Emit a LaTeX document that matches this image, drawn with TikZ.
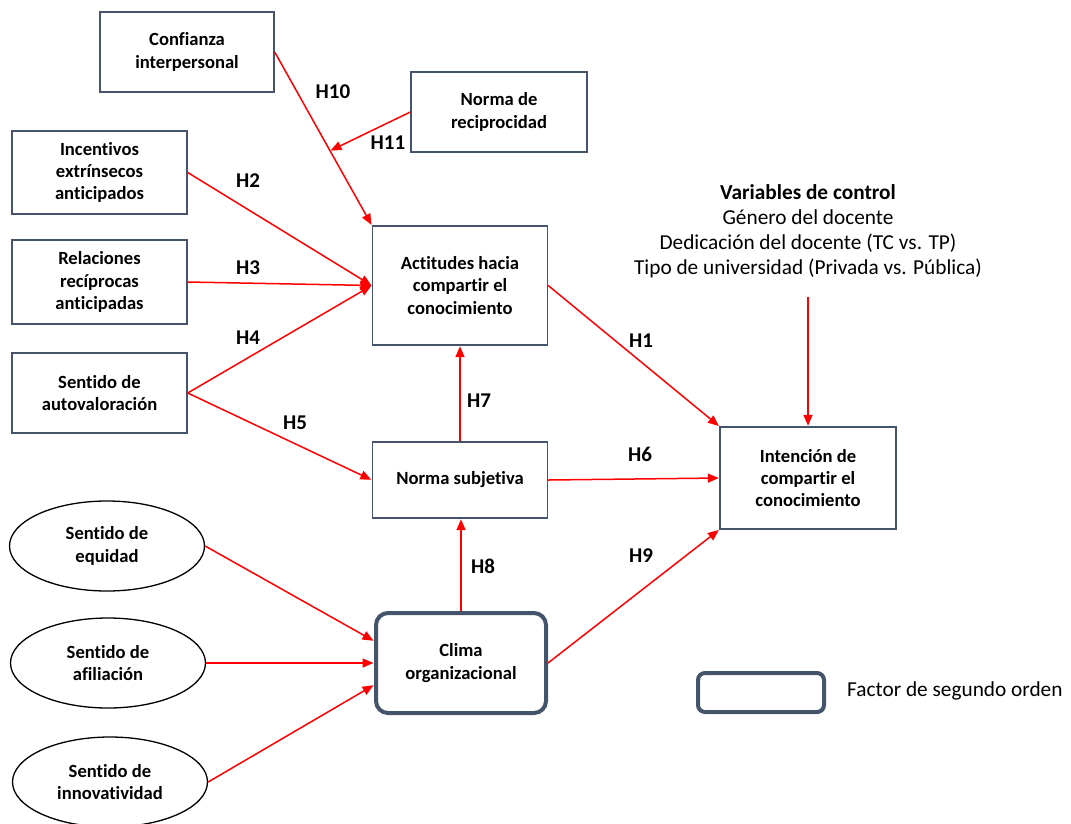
\documentclass[tikz,border=0pt]{standalone}
\usepackage{fontspec}
\setmainfont{Carlito}[Ligatures={NoCommon}]
\usetikzlibrary{arrows.meta,calc,shapes.geometric}
\definecolor{boxline}{HTML}{44546A}
\definecolor{linkred}{HTML}{FF0000}
\tikzset{
  varbox/.style={draw=boxline,line width=1.4pt,fill=white,align=center,
    font=\fontsize{18.6}{22.3}\selectfont\bfseries,inner sep=2pt},
  varoval/.style={ellipse,draw=black,line width=1.3pt,fill=white,align=center,
    font=\fontsize{18.6}{22.3}\selectfont\bfseries,inner sep=0pt},
  factorbox/.style={draw=boxline,line width=4pt,rounded corners=12pt,fill=white,
    align=center,font=\fontsize{18.6}{22.3}\selectfont\bfseries},
  link/.style={draw=linkred,line width=1.5pt,-{Triangle[length=11pt,width=9pt]},
    shorten >=0.5pt},
  hlabel/.style={font=\fontsize{21}{24}\selectfont\bfseries,inner sep=0pt},
  plaintext/.style={font=\fontsize{21.3}{25.2}\selectfont,align=center,inner sep=0pt}
}
\begin{document}
\begin{tikzpicture}[x=1pt,y=-1pt]
\useasboundingbox (0,0) rectangle (1071,823);

% constructs
\node[varbox,minimum width=174pt,minimum height=80pt] (conf) at (187,52) {Confianza\\interpersonal};
\node[varbox,minimum width=176pt,minimum height=80pt] (recip) at (499,112) {Norma de\\reciprocidad};
\node[varbox,minimum width=175pt,minimum height=83pt] (incent) at (99.5,172.5) {Incentivos\\extrínsecos\\anticipados};
\node[varbox,minimum width=175pt,minimum height=84pt] (relac) at (99.5,282) {Relaciones\\recíprocas\\anticipadas};
\node[varbox,minimum width=175pt,minimum height=80pt] (autov) at (99.5,393) {Sentido de\\autovaloración};
\node[varbox,minimum width=175pt,minimum height=119pt] (actit) at (460,285.5) {Actitudes hacia\\compartir el\\conocimiento};
\node[varbox,minimum width=175pt,minimum height=76pt] (nsubj) at (460,480) {Norma subjetiva};
\node[varbox,minimum width=176pt,minimum height=102pt] (inten) at (808,478) {Intención de\\compartir el\\conocimiento};
\node[factorbox,minimum width=170pt,minimum height=100pt] (clima) at (461,663) {Clima\\organizacional};

\node[varoval,minimum width=195pt,minimum height=90pt] (equid) at (107,546) {Sentido de\\equidad};
\node[varoval,minimum width=195pt,minimum height=90pt] (afil) at (108,663) {Sentido de\\afiliación};
\node[varoval,minimum width=195pt,minimum height=90pt] (innov) at (110,782) {Sentido de\\innovatividad};

% control variables
\node[plaintext,anchor=north] (ctrl) at (808,184)
  {\textbf{Variables de control}\\Género del docente\\Dedicación del docente (TC vs. TP)\\Tipo de universidad (Privada vs. Pública)};
\coordinate (ctrlfoot) at (808,297);

% legend
\node[draw=boxline,line width=4pt,rounded corners=7pt,minimum width=126pt,minimum height=39pt] (legbox) at (761,692.5) {};
\node[plaintext,anchor=west] (legtext) at (847,691) {Factor de segundo orden};

% paths
\coordinate (h11end) at ($(conf.east)!0.57!(actit.north west)$);
\draw[link] (conf.east) -- (actit.north west);
\draw[link] (recip.west) -- (h11end);
\draw[link] (incent.east) -- (actit.west);
\draw[link] (relac.east) -- (actit.west);
\draw[link] (autov.east) -- (actit.west);
\draw[link] (autov.east) -- (nsubj.west);
\draw[link] (nsubj.north) -- (actit.south);
\draw[link] (clima.north) -- (nsubj.south -| clima.north);
\draw[link] (nsubj.east) -- (inten.west);
\draw[link] (actit.east) -- (inten.north west);
\draw[link] (clima.east) -- (inten.south west);
\draw[link] (equid.east) -- ([yshift=22pt]clima.west);
\draw[link] (afil.east) -- (clima.west);
\draw[link] (innov.east) -- ([yshift=-22pt]clima.west);
\draw[link] (ctrlfoot) -- (inten.north);

% hypothesis labels
\node[hlabel] (l10) at (333,92) {H10};
\node[hlabel] (l11) at (388,143) {H11};
\node[hlabel] (l2) at (248,181) {H2};
\node[hlabel] (l3) at (248,268) {H3};
\node[hlabel] (l4) at (248,338) {H4};
\node[hlabel] (l5) at (295,423) {H5};
\node[hlabel] (l7) at (479,401) {H7};
\node[hlabel] (l1) at (641,341) {H1};
\node[hlabel] (l6) at (640,454) {H6};
\node[hlabel] (l8) at (483,566) {H8};
\node[hlabel] (l9) at (641,556) {H9};
\end{tikzpicture}
\end{document}
